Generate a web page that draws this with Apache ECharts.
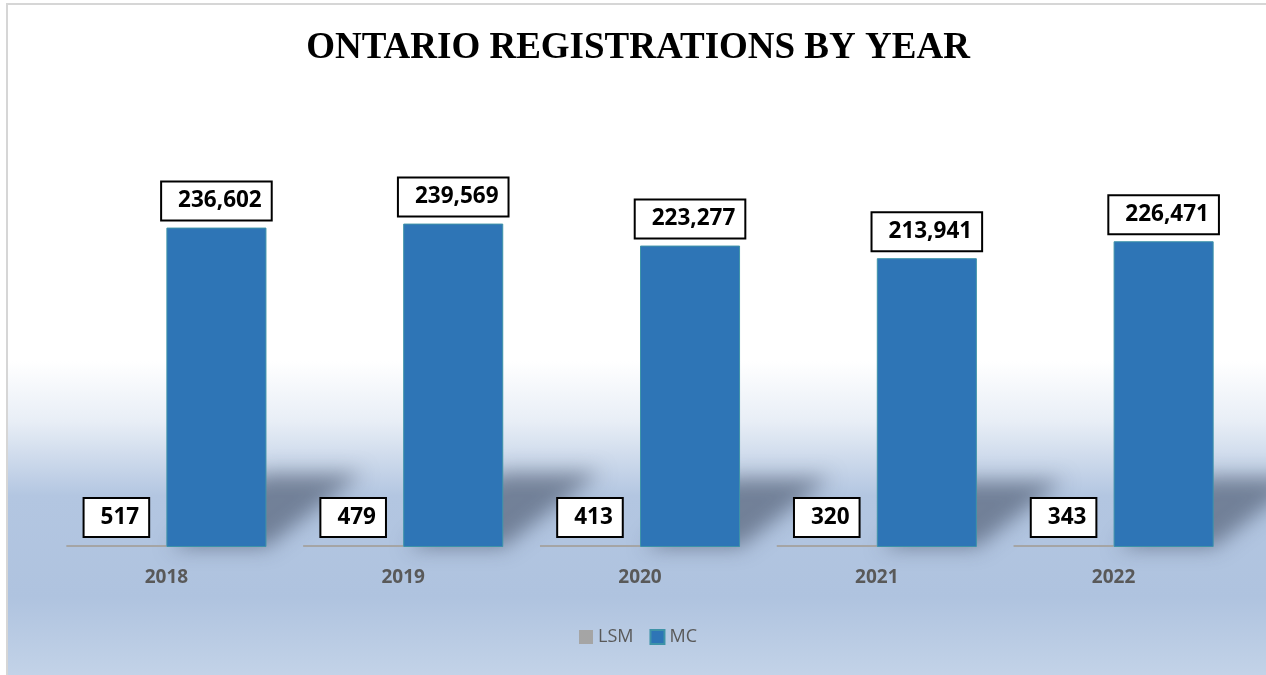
<!DOCTYPE html>
<html>
<head>
<meta charset="utf-8">
<script src="https://cdn.jsdelivr.net/npm/echarts@6/dist/echarts.min.js"></script>
<style>
  html, body { margin: 0; padding: 0; background: #fff; }
  #wrap { position: absolute; left: 6px; top: 3px; width: 1260px; height: 672px;
          border-left: 2px solid #d6d6d6; border-top: 2px solid #d6d6d6; }
  #chart { width: 1260px; height: 672px; }
</style>
</head>
<body>
<div id="wrap"><div id="chart"></div></div>
<script>
// 数据
var years = ['2018', '2019', '2020', '2021', '2022'];
var lsm = [517, 479, 413, 320, 343];
var mc = [236602, 239569, 223277, 213941, 226471];

var myChart = echarts.init(document.getElementById('chart'));

var labelStyle = {
    show: true,
    position: 'top',
    color: '#000',
    fontFamily: 'Open Sans',
    fontWeight: 'bold',
    fontSize: 22.5,
    lineHeight: 25,
    backgroundColor: '#fff',
    borderColor: '#000',
    borderWidth: 2,
    padding: [6, 9, 6, 16],
    formatter: function (p) {
        return p.value.toLocaleString('en-US');
    }
};

// 透视阴影 (画在画面外, 用 shadowOffset 移回来, 得到模糊效果)
var OFF = 3000;
function renderShadow(params, api) {
    var idx = api.value(0);
    var top = api.coord([idx, api.value(1)]);
    var base = api.coord([idx, 0]);
    var band = api.size([1, 0])[0];
    var w = band * 0.845 / 2;
    var x0 = base[0] - OFF;
    var x1 = base[0] + w - OFF;
    var H = base[1] - top[1];
    var h = H * 0.23;
    var dx = H * 0.30;
    return {
        type: 'polygon',
        shape: {
            points: [[x0 + 4, base[1]], [x1, base[1]], [x1 + dx, base[1] - h], [x0 + dx, base[1] - h]]
        },
        style: {
            fill: 'rgba(40,50,70,1)',
            shadowBlur: 20,
            shadowOffsetX: OFF,
            shadowColor: 'rgba(50,60,80,0.5)'
        }
    };
}

var option = {
    backgroundColor: new echarts.graphic.LinearGradient(0, 0, 0, 1, [
        { offset: 0, color: '#ffffff' },
        { offset: 0.53, color: '#ffffff' },
        { offset: 0.62, color: '#e8eef6' },
        { offset: 0.73, color: '#b3c6e1' },
        { offset: 0.88, color: '#afc3df' },
        { offset: 1, color: '#c3d3e8' }
    ]),
    title: {
        text: 'ONTARIO REGISTRATIONS BY YEAR',
        left: 'center',
        top: 20,
        textStyle: {
            fontFamily: 'Liberation Serif',
            fontWeight: 'bold',
            fontSize: 37,
            color: '#000'
        }
    },
    legend: {
        data: ['LSM', 'MC'],
        bottom: 26,
        left: 'center',
        icon: 'rect',
        itemWidth: 14,
        itemHeight: 14,
        itemGap: 16,
        textStyle: { fontFamily: 'Open Sans', fontSize: 18, color: '#595959' }
    },
    grid: { left: 40, right: 36, top: 137, bottom: 130 },
    xAxis: {
        type: 'category',
        data: years,
        axisLine: { show: false },
        axisTick: { show: false },
        axisLabel: {
            margin: 21,
            fontFamily: 'Open Sans',
            fontWeight: 'bold',
            fontSize: 19,
            color: '#595959'
        }
    },
    yAxis: {
        type: 'value',
        min: 0,
        max: 300000,
        show: false,
        splitLine: { show: false }
    },
    series: [
        {
            name: 'shadow',
            type: 'custom',
            renderItem: renderShadow,
            data: mc.map(function (v, i) { return [i, v]; }),
            clip: false,
            z: 1,
            silent: true
        },
        {
            name: 'LSM',
            type: 'bar',
            data: lsm,
            barGap: '0%',
            barCategoryGap: '15.5%',
            barMinHeight: 2,
            itemStyle: { color: '#a5a5a5' },
            label: Object.assign({}, labelStyle, { distance: 9 }),
            z: 3
        },
        {
            name: 'MC',
            type: 'bar',
            data: mc,
            itemStyle: { color: '#2e75b6', borderColor: '#3e93a8', borderWidth: 1 },
            label: Object.assign({}, labelStyle, { distance: 8 }),
            z: 3
        }
    ]
};
if (option && typeof option === "object") {
    myChart.setOption(option, true);
}
</script>
</body>
</html>
